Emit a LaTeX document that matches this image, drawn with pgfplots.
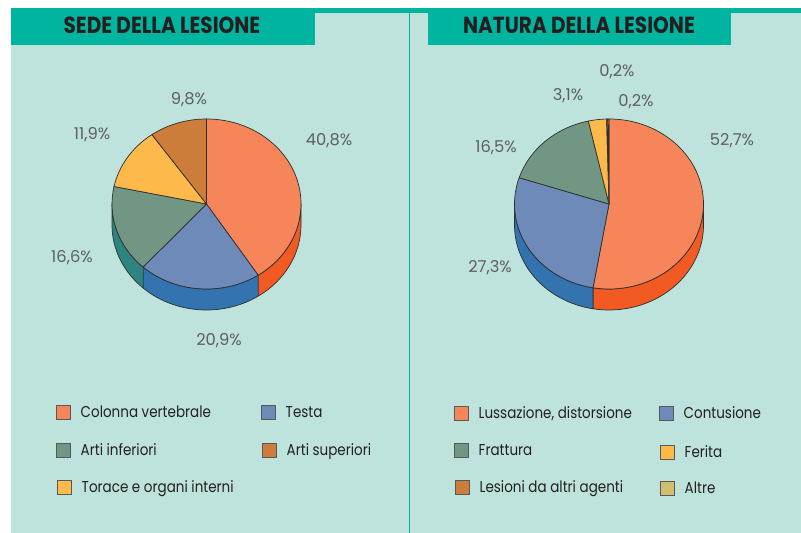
\documentclass[border=0pt]{standalone}
\usepackage{pgfplots}
\pgfplotsset{compat=1.18}
\usepackage{pgfplotstable}
\usepackage{fontspec}
\setmainfont{Poppins}[FakeStretch=0.86]
\newfontfamily\lblfont{Poppins}

\definecolor{panelbg}{HTML}{BDE3DC}
\definecolor{tealc}{HTML}{00B5A0}
\definecolor{txt}{HTML}{231F20}
\definecolor{lbl}{HTML}{5E5F61}
\definecolor{edge}{HTML}{2E2E2E}
\definecolor{tA}{HTML}{F6855A}\definecolor{sA}{HTML}{F15A22}
\definecolor{tB}{HTML}{6E8AB9}\definecolor{sB}{HTML}{3373AF}
\definecolor{tC}{HTML}{729684}\definecolor{sC}{HTML}{2E8580}
\definecolor{tD}{HTML}{FDB94A}\definecolor{sD}{HTML}{E89A2E}
\definecolor{tE}{HTML}{CD7C3A}\definecolor{sE}{HTML}{A85F25}
\definecolor{tF}{HTML}{D2BF6C}\definecolor{sF}{HTML}{B0A050}

% name; value (%); colour; label x,y (px); legend square x, centre y (px)
\pgfplotstableread[col sep=semicolon]{
name;value;c;lx;ly;gx;gy
Colonna vertebrale;40.8;A;329;141;56;412
Testa;20.9;B;219;341;261;412
Arti inferiori;16.6;C;72;258;56;450
Torace e organi interni;11.9;D;92;135;57;487
Arti superiori;9.8;E;189;100;262;450
}\sede
\pgfplotstableread[col sep=semicolon]{
name;value;c;lx;ly;gx;gy
Lussazione, distorsione;52.7;A;732;141;454;413
Contusione;27.3;B;490;268;659;413
Frattura;16.5;C;496;148;454;450
Ferita;3.1;D;568;96;660;452
Lesioni da altri agenti;0.2;E;636;102;455;487
Altre;0.2;F;617;72;660;488
}\natura

\def\RX{94.5}\def\RY{85}\def\DEP{21}
\newcommand\drawpie[3]{%
  \pgfplotstablegetrowsof{#1}\pgfmathtruncatemacro\nlast{\pgfplotsretval-1}%
  % visible sides
  \gdef\cum{0}%
  \foreach \i in {0,...,\nlast}{%
    \pgfplotstablegetelem{\i}{value}\of#1\let\vv\pgfplotsretval
    \pgfplotstablegetelem{\i}{c}\of#1\let\cc\pgfplotsretval
    \pgfmathsetmacro\sa{90-3.6*\cum}%
    \pgfmathsetmacro\ea{90-3.6*(\cum+\vv)}%
    \pgfmathsetmacro\nc{\cum+\vv}\xdef\cum{\nc}%
    \pgfmathsetmacro\lo{max(\ea,-180)}%
    \pgfmathsetmacro\hi{min(\sa,0)}%
    \ifdim\lo pt<\hi pt
      \pgfmathsetmacro\px{#2+\RX*cos(\hi)}%
      \pgfmathsetmacro\py{#3+\RY*sin(\hi)}%
      \edef\tmp{\noexpand\filldraw[fill=s\cc,draw=edge,line width=0.7pt,line join=round] (axis cs:\px,\py) arc[start angle=\hi,end angle=\lo,x radius=\RX bp,y radius=\RY bp] -- ++(0,-\DEP bp) arc[start angle=\lo,end angle=\hi,x radius=\RX bp,y radius=\RY bp] -- cycle;}%
      \tmp
    \fi
  }%
  % top faces, labels, legend
  \gdef\cum{0}%
  \foreach \i in {0,...,\nlast}{%
    \pgfplotstablegetelem{\i}{value}\of#1\let\vv\pgfplotsretval
    \pgfplotstablegetelem{\i}{c}\of#1\let\cc\pgfplotsretval
    \pgfplotstablegetelem{\i}{name}\of#1\let\nm\pgfplotsretval
    \pgfplotstablegetelem{\i}{lx}\of#1\let\lx\pgfplotsretval
    \pgfplotstablegetelem{\i}{ly}\of#1\pgfmathsetmacro\ly{533-\pgfplotsretval}%
    \pgfplotstablegetelem{\i}{gx}\of#1\let\gx\pgfplotsretval
    \pgfplotstablegetelem{\i}{gy}\of#1\pgfmathsetmacro\gy{533-\pgfplotsretval}%
    \pgfmathsetmacro\sa{90-3.6*\cum}%
    \pgfmathsetmacro\ea{90-3.6*(\cum+\vv)}%
    \pgfmathsetmacro\nc{\cum+\vv}\xdef\cum{\nc}%
    \pgfmathsetmacro\px{#2+\RX*cos(\sa)}%
    \pgfmathsetmacro\py{#3+\RY*sin(\sa)}%
    \pgfmathsetmacro\gxa{\gx+14}\pgfmathsetmacro\gya{\gy-7}\pgfmathsetmacro\gyb{\gy+7}%
    \pgfmathsetmacro\tx{\gx+24.5}\pgfmathsetmacro\ty{\gy-5.8}%
    \edef\tmp{%
      \noexpand\filldraw[fill=t\cc,draw=edge,line width=0.7pt,line join=round] (axis cs:#2,#3) -- (axis cs:\px,\py) arc[start angle=\sa,end angle=\ea,x radius=\RX bp,y radius=\RY bp] -- cycle;
      \noexpand\node[text=lbl,font=\noexpand\lblfont\noexpand\fontsize{16.3bp}{19bp}\noexpand\selectfont,inner sep=0pt] at (axis cs:\lx,\ly) {\noexpand\pgfmathprintnumber[fixed,fixed zerofill,precision=1,use comma,assume math mode=true]{\vv}\noexpand\%};
      \noexpand\filldraw[fill=t\cc,draw=edge!80,line width=0.8pt] (axis cs:\gx,\gya) rectangle (axis cs:\gxa,\gyb);
      \noexpand\node[text=txt,font=\noexpand\fontsize{15.7bp}{19bp}\noexpand\selectfont,inner sep=0pt,anchor=base west] at (axis cs:\tx,\ty) {\nm};
    }%
    \tmp
  }%
}

\begin{document}
\begin{tikzpicture}
\begin{axis}[x=1bp,y=1bp,xmin=0,xmax=801,ymin=0,ymax=533,hide axis,clip=false,scale only axis]
\fill[white] (axis cs:0,0) rectangle (axis cs:801,533);
\fill[panelbg] (axis cs:11,0) rectangle (axis cs:801,520);
\fill[tealc] (axis cs:11,520) rectangle (axis cs:801,525);
\fill[tealc] (axis cs:11,488) rectangle (axis cs:315,525);
\fill[tealc] (axis cs:428,488) rectangle (axis cs:731,520);
\fill[tealc] (axis cs:408.8,0) rectangle (axis cs:410.3,520);
\node[text=txt,font=\fontsize{23.3bp}{26bp}\selectfont\bfseries,inner sep=0pt] at (axis cs:162,508) {SEDE DELLA LESIONE};
\node[text=txt,font=\fontsize{23.3bp}{26bp}\selectfont\bfseries,inner sep=0pt] at (axis cs:579,508) {NATURA DELLA LESIONE};
\drawpie{\sede}{206.5}{329}
\drawpie{\natura}{609}{329}
\end{axis}
\end{tikzpicture}
\end{document}
